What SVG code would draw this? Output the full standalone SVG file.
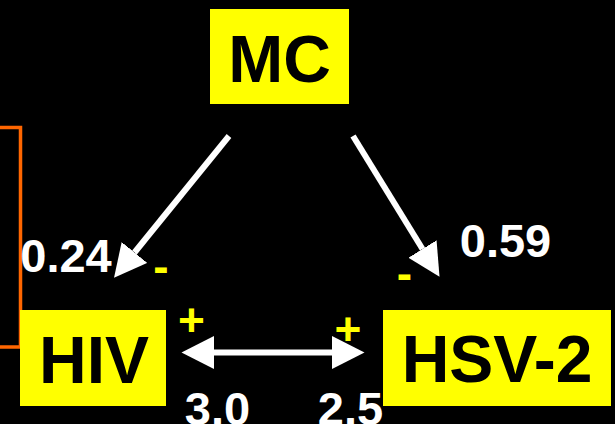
<svg xmlns="http://www.w3.org/2000/svg" width="615" height="424" viewBox="0 0 615 424">
  <style>
    .box { fill: #FFFF00; }
    .name { font-family: "Liberation Sans", Arial, sans-serif; font-weight: bold; font-size: 66px; fill: #000000; text-anchor: middle; }
    .val { font-family: "Liberation Sans", Arial, sans-serif; font-weight: bold; font-size: 47px; fill: #FFFFFF; text-anchor: middle; }
    .sign { font-family: "Liberation Sans", Arial, sans-serif; font-weight: bold; font-size: 46px; fill: #FFFF00; text-anchor: middle; }
    .link { stroke: #FFFFFF; stroke-width: 6; fill: none; marker-end: url(#head); }
  </style>
  <defs>
    <marker id="head" markerUnits="userSpaceOnUse" viewBox="0 -17 34 34" refX="0" refY="0" markerWidth="34" markerHeight="34" orient="auto-start-reverse">
      <path d="M0,-16.5 L32.5,0 L0,16.5 Z" fill="#FFFFFF"/>
    </marker>
  </defs>

  <rect width="615" height="424" fill="#000000"/>

  <!-- bracket at the left edge -->
  <path d="M0,127.5 H20.5 V347 H0" fill="none" stroke="#FF6600" stroke-width="3.5"/>

  <g id="connectors">
    <line class="link" x1="229" y1="136" x2="134.5" y2="252.5"/>
    <line class="link" x1="353" y1="136" x2="422.5" y2="249"/>
    <line class="link" x1="214" y1="352.5" x2="332" y2="352.5" marker-start="url(#head)"/>
  </g>

  <g id="mc">
    <rect class="box" x="210" y="9" width="139" height="95"/>
    <text class="name" x="279.5" y="82">MC</text>
  </g>
  <g id="hiv">
    <rect class="box" x="20" y="310" width="146" height="96"/>
    <text class="name" x="94" y="383">HIV</text>
  </g>
  <g id="hsv2">
    <rect class="box" x="383" y="310" width="228" height="96"/>
    <text class="name" x="497" y="382">HSV-2</text>
  </g>

  <g id="labels">
    <text class="val" x="66" y="272">0.24</text>
    <text class="val" x="505.5" y="257">0.59</text>
    <text class="val" x="217.5" y="425">3.0</text>
    <text class="val" x="350.5" y="425">2.5</text>
    <text class="sign" x="161" y="282">-</text>
    <text class="sign" x="404.5" y="289">-</text>
    <text class="sign" x="191.5" y="336">+</text>
    <text class="sign" x="348" y="345">+</text>
  </g>
</svg>
